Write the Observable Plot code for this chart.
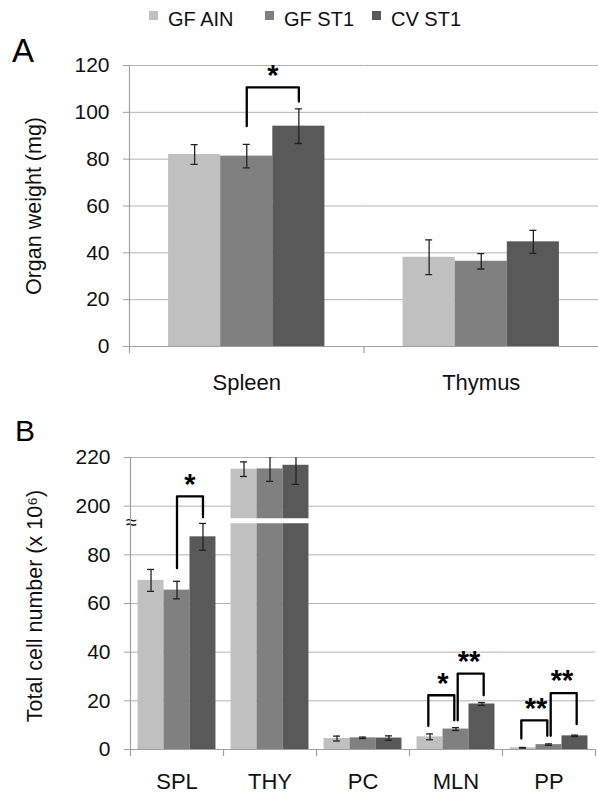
<!DOCTYPE html>
<html><head><meta charset="utf-8">
<script src="https://cdn.jsdelivr.net/npm/d3@7"></script>
<script src="https://cdn.jsdelivr.net/npm/@observablehq/plot@0.6"></script>
<style>
body{margin:0;background:#fff;font-family:"Liberation Sans",Arial,sans-serif;}
#wrap{position:relative;width:598px;height:794px;overflow:hidden;background:#fff;}
#wrap > svg{position:absolute;left:0;}
</style></head><body><div id="wrap"></div>
<script>
// ---- shared ----
const series = ["GF AIN", "GF ST1", "CV ST1"];
const seriesColors = ["#c0c0c0", "#808080", "#595959"];

// ---- Panel A: organ weight (mg) ----
const organsA = ["Spleen", "Thymus"];
const weightGFAIN = [82.0, 38.1];
const weightGFST1 = [81.3, 36.4];
const weightCVST1 = [94.1, 44.7];
const weightErrGFAIN = [4.2, 7.4];
const weightErrGFST1 = [5.0, 3.3];
const weightErrCVST1 = [7.4, 4.9];
const yTicksA = [0, 20, 40, 60, 80, 100, 120];
const yLabelA = "Organ weight (mg)";
// significance bracket (axis units)
const bracketGroupA = ["Spleen"];
const bracketFromA = ["GF ST1"];
const bracketToA = ["CV ST1"];
const bracketTopA = [110.7];
const bracketFromBaseA = [94.1];
const bracketToBaseA = [104.6];
const bracketLabelA = ["*"];

// ---- Panel B: total cell number (x 10^6), broken axis 80 -> 200 ----
const groupsB = ["SPL", "THY", "PC", "MLN", "PP"];
const cellsGFAIN = [69.5, 215.2, 4.5, 5.2, 0.7];
const cellsGFST1 = [65.5, 215.3, 4.8, 8.4, 2.0];
const cellsCVST1 = [87.4, 216.8, 4.7, 18.7, 5.6];
const cellsErrGFAIN = [4.5, 3.0, 1.0, 1.2, 0.15];
const cellsErrGFST1 = [3.6, 5.1, 0.3, 0.6, 0.3];
const cellsErrCVST1 = [5.5, 7.8, 0.9, 0.6, 0.3];
const yTicksB = [0, 20, 40, 60, 80, 200, 220];
const yLabelB = "Total cell number (x 10⁶)";
const breakGap = 100; // values above the break are drawn 100 lower
const brk = v => (v >= 150 ? v - breakGap : v);
// brackets (in drawn axis units)
const bracketGroupB = ["SPL", "MLN", "MLN", "PP", "PP"];
const bracketFromB = ["GF ST1", "GF AIN", "GF ST1", "GF AIN", "GF ST1"];
const bracketToB = ["CV ST1", "GF ST1", "CV ST1", "GF ST1", "CV ST1"];
const bracketTopB = [104.0, 22.3, 31.2, 12.0, 23.2];
const bracketFromBaseB = [74.5, 9.7, 12.0, 4.5, 5.6];
const bracketToBaseB = [95.4, 12.0, 22.3, 5.6, 10.4];
const bracketLabelB = ["*", "*", "**", "**", "**"];

const FONT = "'Liberation Sans', Arial, sans-serif";
const W = 598;
const wrap = document.getElementById("wrap");

function makeRows(groups, vals, errs, tf = v => v) {
  return groups.flatMap((g, i) => series.map((s, j) => ({
    g, s, v: tf(vals[j][i]), lo: tf(vals[j][i]) - errs[j][i], hi: tf(vals[j][i]) + errs[j][i]
  })));
}
function makeBrackets(grp, from, to, top, fb, tb, lab) {
  const pts = [], labels = [];
  grp.forEach((g, i) => {
    // nudge brackets that share a bar so their legs sit side by side
    const leftOfOther = grp.some((g2, k) => k !== i && g2 === g && from[k] === to[i]);
    const rightOfOther = grp.some((g2, k) => k !== i && g2 === g && to[k] === from[i]);
    const shift = leftOfOther ? -1 : rightOfOther ? 1 : 0;
    pts.push({id: i, shift, g, s: from[i], y: fb[i]}, {id: i, shift, g, s: from[i], y: top[i]},
             {id: i, shift, g, s: to[i], y: top[i]}, {id: i, shift, g, s: to[i], y: tb[i]});
    labels.push({g, s: from[i], y: top[i], t: lab[i]});
  });
  return {pts, labels};
}

function panel({groups, rows, brackets, yDomain, yTicks, tickFormat, height, m, po, capW, extra = [], rightTick = true, fxPad}) {
  const step = (W - m.left - m.right) / groups.length / (series.length + 2 * po);
  const edge = (0.5 + po) * step;
  const inset = (step - capW) / 2;
  const bracketLine = (shift) => Plot.line(brackets.pts.filter(d => d.shift === shift),
    {fx: "g", x: "s", y: "y", z: "id", dx: shift * 1.7, stroke: "#000", strokeWidth: 2.3});
  return Plot.plot({
    width: W, height,
    marginTop: m.top, marginRight: m.right, marginBottom: m.bottom, marginLeft: m.left,
    style: {fontFamily: FONT, background: "transparent", color: "#111", overflow: "visible"},
    fx: {domain: groups, padding: 0, round: false, axis: null},
    x: {domain: series, paddingOuter: po, paddingInner: 0, round: false, axis: null},
    y: {domain: yDomain, axis: null},
    color: {domain: series, range: seriesColors},
    marks: [
      Plot.ruleY(yTicks, {stroke: "#b4b4b4", strokeWidth: 1}),
      Plot.barY(rows, {fx: "g", x: "s", y: "v", fill: "s"}),
      ...extra,
      Plot.ruleX(rows, {fx: "g", x: "s", y1: "lo", y2: "hi", stroke: "#222", strokeWidth: 1.3, clip: true}),
      Plot.tickY(rows, {fx: "g", x: "s", y: "hi", insetLeft: inset, insetRight: inset, stroke: "#222", strokeWidth: 1.3, clip: true}),
      Plot.tickY(rows, {fx: "g", x: "s", y: "lo", insetLeft: inset, insetRight: inset, stroke: "#222", strokeWidth: 1.3, clip: true}),
      // x axis line and category boundary ticks
      Plot.ruleY([yDomain[0]], {stroke: "#a0a0a0", strokeWidth: 1.2}),
      Plot.ruleX(groups, {fx: d => d, x: () => series[0], dx: -edge, y1: yDomain[0], y2: yDomain[0], insetTop: 7, stroke: "#a0a0a0", strokeWidth: 1.2}),
      ...(rightTick ? [Plot.ruleX(groups.slice(-1), {fx: d => d, x: () => series[series.length - 1], dx: edge, y1: yDomain[0], y2: yDomain[0], insetTop: 7, stroke: "#a0a0a0", strokeWidth: 1.2})] : []),
      // y axis line
      Plot.ruleX(groups.slice(0, 1), {fx: d => d, x: () => series[0], dx: -edge, y1: yDomain[0], y2: yDomain[1], stroke: "#a0a0a0", strokeWidth: 1.2}),
      Plot.axisY({ticks: yTicks, tickFormat, tickSize: 6, tickPadding: 14, fontSize: 21, stroke: "#a0a0a0", label: null}),
      Plot.axisFx({anchor: "bottom", tickSize: 0, tickPadding: fxPad, fontSize: 22, label: null}),
      // significance brackets
      bracketLine(0), bracketLine(-1), bracketLine(1),
      Plot.text(brackets.labels, {fx: "g", x: "s", y: "y", text: "t", dx: step / 2, dy: -12, fontSize: 29, fontWeight: "bold", fill: "#000"})
    ]
  });
}

// Panel A
const rowsA = makeRows(organsA, [weightGFAIN, weightGFST1, weightCVST1], [weightErrGFAIN, weightErrGFST1, weightErrCVST1]);
const brA = makeBrackets(bracketGroupA, bracketFromA, bracketToA, bracketTopA, bracketFromBaseA, bracketToBaseA, bracketLabelA);
const svgA = panel({
  groups: organsA, rows: rowsA, brackets: brA, yDomain: [0, 120], yTicks: yTicksA,
  tickFormat: d => String(d), height: 360,
  m: {top: 25, right: 0, bottom: 54, left: 129}, po: 0.75, capW: 7, rightTick: false, fxPad: 28
});
svgA.style.top = "40px";
wrap.appendChild(svgA);

// Panel B
const rowsB = makeRows(groupsB, [cellsGFAIN, cellsGFST1, cellsCVST1], [cellsErrGFAIN, cellsErrGFST1, cellsErrCVST1], brk);
const brB = makeBrackets(bracketGroupB, bracketFromB, bracketToB, bracketTopB, bracketFromBaseB, bracketToBaseB, bracketLabelB);
const breakMarks = [
  Plot.ruleY([{g: "THY", y: 94}], {fx: "g", y: "y", stroke: "#fff", strokeWidth: 5}),
  Plot.text([{g: "SPL", y: 93.4, t: "≈"}], {fx: "g", y: "y", text: "t", frameAnchor: "left", textAnchor: "middle", dx: 1, fontSize: 20, fill: "#111"})
];
const svgB = panel({
  groups: groupsB, rows: rowsB, brackets: brB, yDomain: [0, 120], yTicks: yTicksB.map(brk),
  tickFormat: d => String(d >= 100 ? d + breakGap : d), height: 394,
  m: {top: 57, right: 3, bottom: 45, left: 130}, po: 0.29, capW: 7, extra: breakMarks, rightTick: true, fxPad: 24
});
svgB.style.top = "400px";
wrap.appendChild(svgB);

// Overlay: legend, panel letters and y-axis titles
const ov = d3.select(wrap).append("svg").attr("width", W).attr("height", 794)
  .style("position", "absolute").style("top", "0px").style("left", "0px")
  .style("font-family", FONT);
const legendX = [149, 265, 372];
series.forEach((s, i) => {
  ov.append("rect").attr("x", legendX[i]).attr("y", 11).attr("width", 9).attr("height", 9).attr("fill", seriesColors[i]);
  ov.append("text").attr("x", legendX[i] + 19).attr("y", 26).attr("font-size", 20).attr("fill", "#111").text(s);
});
ov.append("text").attr("x", 12).attr("y", 62).attr("font-size", 33).attr("fill", "#000").text("A");
ov.append("text").attr("x", 15).attr("y", 441).attr("font-size", 30).attr("fill", "#000").text("B");
ov.append("text").attr("transform", "translate(41,206) rotate(-90)").attr("text-anchor", "middle")
  .attr("font-size", 21.5).attr("fill", "#111").text(yLabelA);
ov.append("text").attr("transform", "translate(42,606) rotate(-90)").attr("text-anchor", "middle")
  .attr("font-size", 21.5).attr("fill", "#111").text(yLabelB);
</script></body></html>
